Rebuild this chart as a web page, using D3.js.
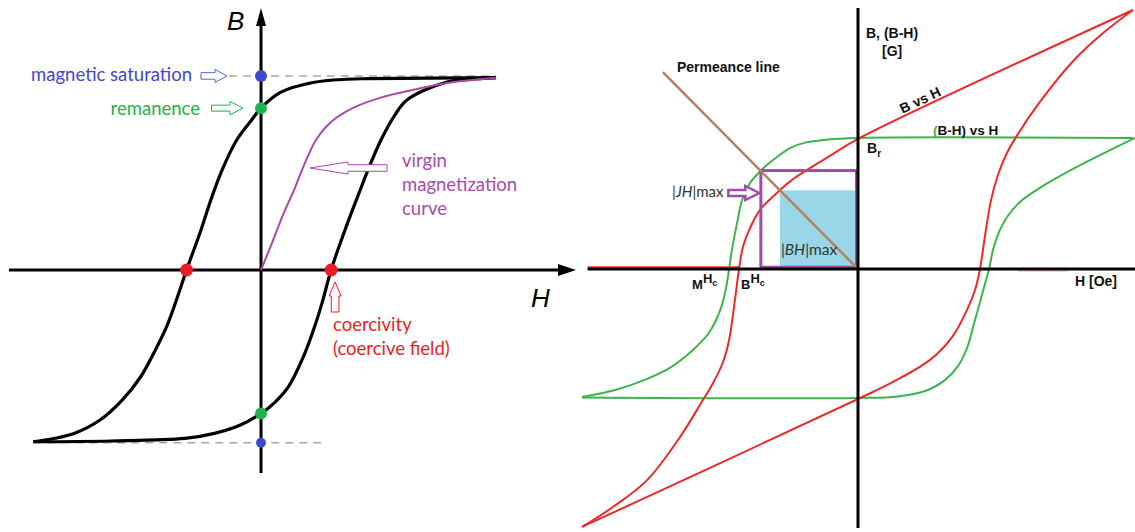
<!DOCTYPE html>
<html>
<head>
<meta charset="utf-8">
<script src="https://cdn.jsdelivr.net/npm/d3@7"></script>
<style>
  html, body { margin: 0; padding: 0; background: #fff; }
  svg { display: block; }
</style>
</head>
<body>
<svg id="chart" width="1135" height="532"></svg>
<script>
// ---------- Left panel: generic hysteresis loop (H, B in arbitrary units) ----------
// descending branch, from positive saturation to negative saturation
const loopDescending = [
  [102.6, 99.1], [47.6, 98.6], [37.5, 98.3], [22.7, 96.6], [8.5, 91.5], [0, 83.4],
  [-4.1, 77.3], [-10.6, 67], [-17, 51.5], [-21.9, 36.1], [-26.7, 18.9], [-32.5, 0],
  [-36.4, -13.7], [-41.2, -29.2], [-46.1, -41.2], [-52.5, -55], [-60.6, -67],
  [-70.3, -77.3], [-81.6, -84.2], [-99.4, -88.5]
];
// ascending branch, from negative saturation back to positive saturation
const loopAscending = [
  [-99.4, -88.5], [-65.5, -88.1], [-33.2, -86.8], [-20.3, -84.2], [-9, -79.9], [0, -73.9],
  [5.6, -68.7], [12, -60.1], [18.5, -44.7], [23.4, -29.2], [26.6, -17.2], [30.6, 0],
  [36.2, 19.1], [42.8, 39.7], [48.5, 56.7], [52.8, 68], [58.5, 79.9], [63.7, 87.6],
  [81.2, 96.9], [91.2, 98.2], [102.6, 99.1]
];
// first magnetization from the demagnetized state
const virginCurve = [
  [0, 0], [4.8, 13.9], [9.6, 28.4], [14.4, 41.2], [19.2, 55.2], [24, 67], [30.1, 75.8],
  [40.2, 83.5], [51.9, 88.7], [66.3, 92.8], [81.2, 96.4], [95.6, 98.3], [102.6, 99.1]
];
const saturationB = [100, -89];      // top, bottom
const remanenceB = [83.4, -73.9];    // top, bottom
const coercivityH = [-32.5, 30.6];   // left, right
const loopTipH = [-99.4, 102.6];

// ---------- Right panel: permanent-magnet B-H and intrinsic (B-H) curves (H [Oe], B [G]) ----------
const normalDescending = [
  [9.96, 10.0], [0, 5.02], [-1.09, 4.32], [-2.39, 3.44], [-2.83, 3.04], [-3.55, 2.28],
  [-3.91, 1.58], [-4.17, 0.85], [-4.31, 0], [-4.46, -1.2], [-4.67, -2.74], [-4.89, -3.59],
  [-5.29, -4.48], [-5.62, -5.06], [-6.45, -6.49], [-7.64, -8.15], [-8.88, -9.19], [-10, -9.96]
];
const normalAscending = [
  [-10, -9.96], [0, -5.02], [1.27, -4.36], [2.61, -3.51], [3.41, -2.63], [3.95, -1.58],
  [4.24, -0.81], [4.42, 0], [4.6, 1.27], [4.82, 2.66], [5.07, 3.63], [5.38, 4.44],
  [5.74, 5.12], [6.59, 6.45], [7.83, 8.07], [8.88, 9.11], [9.96, 10.0]
];
const intrinsicDescending = [
  [9.96, 5.06], [0, 5.06], [-1.09, 5.0], [-1.92, 4.88], [-2.46, 4.67], [-3.08, 4.21],
  [-3.52, 3.8], [-3.91, 3.32], [-4.2, 2.66], [-4.38, 1.78], [-4.57, 0.73], [-4.67, 0],
  [-4.78, -0.73], [-4.93, -1.39], [-5.14, -1.97], [-5.43, -2.51], [-5.83, -2.97],
  [-6.23, -3.36], [-6.88, -3.86], [-7.75, -4.29], [-8.8, -4.67], [-10, -4.94]
];
const intrinsicAscending = [
  [-10, -4.96], [0, -4.98], [1.45, -4.92], [2.43, -4.71], [3.15, -4.29], [3.62, -3.75],
  [3.95, -3.05], [4.2, -2.12], [4.42, -1.27], [4.6, -0.58], [4.75, 0], [4.89, 0.73],
  [5.11, 1.43], [5.4, 2.01], [5.87, 2.59], [6.59, 3.13], [7.86, 3.9], [10.04, 5.06]
];
const permeanceLine = [[-7.07, 7.6], [0, 0]];
const bhMax = [-2.83, 3.04];   // operating point on B vs H
const jhMax = [-3.52, 3.8];    // operating point on (B-H) vs H
const coercivityBHc = -4.31;
const coercivityMHc = -4.67;

// ---------- scales ----------
const xL = d3.scaleLinear().domain([-110, 137.5]).range([9, 576]);
const yL = d3.scaleLinear().domain([-104.6, 135]).range([473, 8]);
const xR = d3.scaleLinear().domain([-10, 10]).range([582, 1134]);
const yR = d3.scaleLinear().domain([-10, 10]).range([528, 10]);

const svg = d3.select('#chart');
svg.append('rect').attr('width', 1135).attr('height', 532).attr('fill', '#fff');

const C = {
  blue: '#3f48cc', green: '#22b14c', red: '#ed1c24', purple: '#a64ca6',
  rRed: '#ec2a2a', rGreen: '#3cb44b', brown: '#b3825a', fill: '#99d6e8', rPurple: '#9e4ca8'
};
const leftFont = 'Lato, "Noto Sans", sans-serif';
const rightFont = '"Liberation Sans", Arial, sans-serif';

// hollow block arrow; tip at `tip`, pointing along `angle` (degrees, 0 = right)
function blockArrow(g, tip, angle, len, head, sh, hh, color, sw) {
  const p = d3.path();
  p.moveTo(0, 0); p.lineTo(-head, -hh); p.lineTo(-head, -sh); p.lineTo(-len, -sh);
  p.lineTo(-len, sh); p.lineTo(-head, sh); p.lineTo(-head, hh); p.closePath();
  g.append('path').attr('d', p.toString())
    .attr('transform', `translate(${tip[0]},${tip[1]}) rotate(${angle})`)
    .attr('fill', '#fff').attr('stroke', color).attr('stroke-width', sw)
    .attr('stroke-linejoin', 'miter');
}

// ================= LEFT PANEL =================
const L = svg.append('g');
const lineL = d3.line().x(d => xL(d[0])).y(d => yL(d[1])).curve(d3.curveCatmullRom.alpha(0.5));

// saturation guide lines
L.append('line').attr('x1', xL(-14)).attr('x2', xL(loopTipH[1])).attr('y1', yL(saturationB[0])).attr('y2', yL(saturationB[0]))
  .attr('stroke', '#a8a8a8').attr('stroke-width', 1.5).attr('stroke-dasharray', '8,6');
L.append('line').attr('x1', xL(loopTipH[0])).attr('x2', xL(27.5)).attr('y1', yL(saturationB[1])).attr('y2', yL(saturationB[1]))
  .attr('stroke', '#a8a8a8').attr('stroke-width', 1.5).attr('stroke-dasharray', '8,6');

// axes with arrow heads
L.append('line').attr('x1', xL(-110)).attr('x2', xL(131)).attr('y1', yL(0)).attr('y2', yL(0))
  .attr('stroke', '#000').attr('stroke-width', 3);
L.append('line').attr('x1', xL(0)).attr('x2', xL(0)).attr('y1', yL(-104.6)).attr('y2', yL(126))
  .attr('stroke', '#000').attr('stroke-width', 3);
L.append('path').attr('d', `M${xL(137.5)},${yL(0)} L${xL(137.5) - 18},${yL(0) - 6} L${xL(137.5) - 18},${yL(0) + 6} Z`).attr('fill', '#000');
L.append('path').attr('d', `M${xL(0)},${yL(135)} L${xL(0) - 5},${yL(135) + 18} L${xL(0) + 5},${yL(135) + 18} Z`).attr('fill', '#000');

// loop and virgin curve
L.append('path').attr('d', lineL(loopDescending)).attr('fill', 'none').attr('stroke', '#000').attr('stroke-width', 3.2);
L.append('path').attr('d', lineL(loopAscending)).attr('fill', 'none').attr('stroke', '#000').attr('stroke-width', 3.2);
L.append('path').attr('d', lineL(virginCurve)).attr('fill', 'none').attr('stroke', C.purple).attr('stroke-width', 2);

// characteristic points
L.append('circle').attr('cx', xL(0)).attr('cy', yL(saturationB[0])).attr('r', 6).attr('fill', C.blue);
L.append('circle').attr('cx', xL(0)).attr('cy', yL(saturationB[1])).attr('r', 5).attr('fill', C.blue);
remanenceB.forEach(b => L.append('circle').attr('cx', xL(0)).attr('cy', yL(b)).attr('r', 6).attr('fill', C.green));
coercivityH.forEach(h => L.append('circle').attr('cx', xL(h)).attr('cy', yL(0)).attr('r', 6.5).attr('fill', C.red));

// annotation arrows
blockArrow(L, [xL(0) - 34, yL(saturationB[0])], 0, 26, 12, 3.3, 6.5, '#5a63dd', 1);
blockArrow(L, [xL(0) - 18, yL(remanenceB[0])], 0, 31.5, 13, 3, 6.7, C.green, 1);
blockArrow(L, [310, 168], 180, 77, 38, 3.3, 6, C.purple, 1);
blockArrow(L, [xL(coercivityH[1]) + 4, yL(0) + 12], -90, 30, 14, 3.8, 6, C.red, 1);

// labels
const tL = (x, y, s, color, anchor) => L.append('text').attr('x', x).attr('y', y).text(s)
  .attr('fill', color).attr('font-family', leftFont).attr('font-size', 18.5).attr('text-anchor', anchor || 'start');
tL(192, 81, 'magnetic saturation', C.blue, 'end');
tL(200, 115, 'remanence', C.green, 'end');
tL(402, 167, 'virgin', C.purple);
tL(402, 191, 'magnetization', C.purple);
tL(402, 215, 'curve', C.purple);
tL(333, 331, 'coercivity', C.red);
tL(333, 355, '(coercive field)', C.red);
L.append('text').attr('x', 227).attr('y', 30).text('B').attr('font-family', rightFont)
  .attr('font-style', 'italic').attr('font-size', 26).attr('fill', '#000');
L.append('text').attr('x', 531).attr('y', 307).text('H').attr('font-family', rightFont)
  .attr('font-style', 'italic').attr('font-size', 26).attr('fill', '#000');

// ================= RIGHT PANEL =================
const R = svg.append('g');
const lineR = d3.line().x(d => xR(d[0])).y(d => yR(d[1])).curve(d3.curveCatmullRom.alpha(0.5));

// (BH)max energy-product area
R.append('rect').attr('x', xR(bhMax[0])).attr('y', yR(bhMax[1]))
  .attr('width', xR(0) - xR(bhMax[0])).attr('height', yR(0) - yR(bhMax[1]))
  .attr('fill', C.fill);

// faint traces along the H axis
R.append('line').attr('x1', xR(-9.8)).attr('x2', xR(coercivityBHc)).attr('y1', yR(0) - 2).attr('y2', yR(0) - 2)
  .attr('stroke', C.rRed).attr('stroke-width', 1.3);
R.append('line').attr('x1', xR(5.8)).attr('x2', xR(7.6)).attr('y1', yR(0) + 2).attr('y2', yR(0) + 2)
  .attr('stroke', C.rRed).attr('stroke-width', 1.5).attr('opacity', 0.3);

// curves
R.append('path').attr('d', lineR(intrinsicDescending)).attr('fill', 'none').attr('stroke', C.rGreen).attr('stroke-width', 2);
R.append('path').attr('d', lineR(intrinsicAscending)).attr('fill', 'none').attr('stroke', C.rGreen).attr('stroke-width', 2);
R.append('path').attr('d', lineR(normalDescending)).attr('fill', 'none').attr('stroke', C.rRed).attr('stroke-width', 2);
R.append('path').attr('d', lineR(normalAscending)).attr('fill', 'none').attr('stroke', C.rRed).attr('stroke-width', 2);

// (JH)max rectangle
R.append('rect').attr('x', xR(jhMax[0])).attr('y', yR(jhMax[1]))
  .attr('width', xR(0) - xR(jhMax[0]) - 1.5).attr('height', yR(0) - yR(jhMax[1]) - 1.8)
  .attr('fill', 'none').attr('stroke', C.rPurple).attr('stroke-width', 3);

// permeance line
R.append('path').attr('d', d3.line().x(d => xR(d[0])).y(d => yR(d[1]))(permeanceLine))
  .attr('fill', 'none').attr('stroke', C.brown).attr('stroke-width', 2.5);

// axes
R.append('line').attr('x1', xR(-9.8)).attr('x2', 1135).attr('y1', yR(0)).attr('y2', yR(0))
  .attr('stroke', '#000').attr('stroke-width', 3);
R.append('line').attr('x1', xR(0)).attr('x2', xR(0)).attr('y1', yR(10.08)).attr('y2', yR(-10))
  .attr('stroke', '#000').attr('stroke-width', 3);

// |JH|max arrow
blockArrow(R, [xR(jhMax[0]) - 1.5, 193], 0, 31, 14, 3, 7, C.rPurple, 2.5);

// labels
const tR = (x, y, s, size, weight) => R.append('text').attr('x', x).attr('y', y).text(s)
  .attr('font-family', rightFont).attr('font-size', size).attr('font-weight', weight || 'bold').attr('fill', '#111');
tR(866, 38, 'B, (B-H)', 14);
tR(882, 56, '[G]', 14);
tR(677, 72, 'Permeance line', 14);
tR(1075, 286, 'H [Oe]', 14);

const br = tR(867, 153, 'B', 14);
br.append('tspan').attr('dy', 4).attr('font-size', 10).text('r');

// B vs H, along the recoil line
{
  const p0 = [xR(normalDescending[1][0]), yR(normalDescending[1][1])];
  const p1 = [xR(normalDescending[0][0]), yR(normalDescending[0][1])];
  const ang = Math.atan2(p1[1] - p0[1], p1[0] - p0[0]) * 180 / Math.PI;
  const t = 0.24;
  const px = p0[0] + (p1[0] - p0[0]) * t, py = p0[1] + (p1[1] - p0[1]) * t;
  R.append('text').attr('transform', `translate(${px},${py}) rotate(${ang})`).attr('dy', -4)
    .attr('text-anchor', 'middle').attr('font-family', rightFont).attr('font-size', 14)
    .attr('font-weight', 'bold').attr('fill', '#111').text('B vs H');
}
{
  const t = R.append('text').attr('x', xR(2.72)).attr('y', yR(intrinsicDescending[0][1]) - 3)
    .attr('font-family', rightFont).attr('font-size', 13.5).attr('font-weight', 'bold').attr('fill', '#111');
  t.append('tspan').attr('fill', C.rGreen).text('(');
  t.append('tspan').text('B-H) vs H');
}

// coercivity labels  MHc, BHc
function hcLabel(x, pre) {
  const t = R.append('text').attr('x', x).attr('y', 289).attr('font-family', rightFont)
    .attr('font-weight', 'bold').attr('font-size', 13).attr('fill', '#111');
  t.append('tspan').text(pre);
  t.append('tspan').attr('dy', -6).text('H');
  t.append('tspan').attr('dy', 3).attr('font-size', 9).text('c');
}
hcLabel(xR(coercivityMHc) - 37, 'M');
hcLabel(xR(coercivityBHc) + 2, 'B');

// energy-product labels
{
  const t1 = R.append('text').attr('x', 672).attr('y', 197).attr('font-family', leftFont)
    .attr('font-size', 15).attr('fill', '#333');
  t1.append('tspan').text('|');
  t1.append('tspan').attr('font-style', 'italic').text('JH');
  t1.append('tspan').text('|max');
  const t2 = R.append('text').attr('x', xR(bhMax[0]) + 1).attr('y', 255).attr('font-family', leftFont)
    .attr('font-size', 15.5).attr('fill', '#333');
  t2.append('tspan').text('|');
  t2.append('tspan').attr('font-style', 'italic').text('BH');
  t2.append('tspan').text('|max');
}
</script>
</body>
</html>
